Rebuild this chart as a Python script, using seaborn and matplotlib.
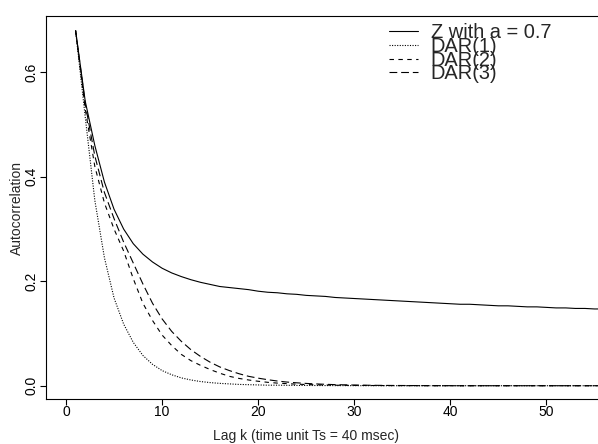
import matplotlib
matplotlib.use("Agg")
import matplotlib.pyplot as plt
import seaborn as sns
import pandas as pd

# ---- data ----
lags = list(range(1, 57))

z_acf = [0.680, 0.545, 0.460, 0.390, 0.338, 0.300, 0.272, 0.252, 0.237, 0.225,
         0.216, 0.209, 0.203, 0.198, 0.194, 0.190, 0.188, 0.186, 0.184, 0.181,
         0.179, 0.178, 0.176, 0.175, 0.173, 0.172, 0.171, 0.169, 0.168, 0.167,
         0.166, 0.165, 0.164, 0.163, 0.162, 0.161, 0.160, 0.159, 0.158, 0.157,
         0.156, 0.156, 0.155, 0.154, 0.153, 0.153, 0.152, 0.151, 0.151, 0.150,
         0.149, 0.149, 0.148, 0.148, 0.147, 0.147]

dar1 = [0.680, 0.515, 0.355, 0.245, 0.168, 0.118, 0.083, 0.058, 0.041, 0.029,
        0.021, 0.015, 0.011, 0.008, 0.006, 0.0045, 0.0035, 0.0025, 0.002, 0.0015,
        0.001, 0.001, 0.0008, 0.0006, 0.0005, 0.0004, 0.0003, 0.0002, 0.0002, 0.0001,
        0.0001, 0.0001, 0.0, 0.0, 0.0, 0.0, 0.0, 0.0, 0.0, 0.0,
        0.0, 0.0, 0.0, 0.0, 0.0, 0.0, 0.0, 0.0, 0.0, 0.0,
        0.0, 0.0, 0.0, 0.0, 0.0, 0.0]

dar2 = [0.680, 0.530, 0.420, 0.350, 0.300, 0.258, 0.205, 0.158, 0.125, 0.097,
        0.077, 0.060, 0.048, 0.039, 0.031, 0.024, 0.018, 0.014, 0.011, 0.0085,
        0.0065, 0.005, 0.004, 0.003, 0.0023, 0.0018, 0.0014, 0.001, 0.0008, 0.0006,
        0.0005, 0.0004, 0.0003, 0.0002, 0.0002, 0.0001, 0.0001, 0.0, 0.0, 0.0,
        0.0, 0.0, 0.0, 0.0, 0.0, 0.0, 0.0, 0.0, 0.0, 0.0,
        0.0, 0.0, 0.0, 0.0, 0.0, 0.0]

dar3 = [0.680, 0.540, 0.440, 0.370, 0.320, 0.275, 0.235, 0.195, 0.158, 0.128,
        0.104, 0.085, 0.069, 0.056, 0.045, 0.036, 0.029, 0.023, 0.018, 0.0145,
        0.0115, 0.009, 0.007, 0.0056, 0.0044, 0.0035, 0.0027, 0.0021, 0.0017, 0.0013,
        0.001, 0.0008, 0.0006, 0.0005, 0.0004, 0.0003, 0.0002, 0.0002, 0.0001, 0.0001,
        0.0, 0.0, 0.0, 0.0, 0.0, 0.0, 0.0, 0.0, 0.0, 0.0,
        0.0, 0.0, 0.0, 0.0, 0.0, 0.0]

series_labels = ["Z with a = 0.7", "DAR(1)", "DAR(2)", "DAR(3)"]
x_ticks = [0, 10, 20, 30, 40, 50]
y_ticks = [0.0, 0.2, 0.4, 0.6]
y_tick_labels = ["0.0", "0.2", "0.4", "0.6"]
x_label = "Lag k (time unit Ts = 40 msec)"
y_label = "Autocorrelation"

# ---- styling ----
sns.set_style("ticks")
plt.rcParams["font.family"] = ["Liberation Sans", "DejaVu Sans"]

W, H = 598, 444
fig = plt.figure(figsize=(W / 100, H / 100), dpi=100)

# axes box: left edge at 46px, top 16px, bottom 399px; extends past the right edge
x_left, x_right = -2.08, 78.0
px_per_unit = 9.61
ax_w_px = (x_right - x_left) * px_per_unit
ax = fig.add_axes([46 / W, 1 - 399.3 / H, ax_w_px / W, (399.3 - 16) / H])

styles = [
    dict(linestyle="-"),
    dict(linestyle=(0, (1, 1.3))),
    dict(linestyle=(0, (4, 4))),
    dict(linestyle=(0, (7, 3.5))),
]
all_vals = [z_acf, dar1, dar2, dar3]
for vals, lab, st in zip(all_vals, series_labels, styles):
    df = pd.DataFrame({"lag": lags, "acf": vals})
    sns.lineplot(data=df, x="lag", y="acf", ax=ax, color="black",
                 linewidth=0.8, label=lab, **st)

ax.set_xlim(x_left, x_right)
ax.set_ylim(-0.026, 0.708)
ax.set_xticks(x_ticks)
ax.set_yticks(y_ticks)
ax.set_yticklabels(y_tick_labels)

ax.set_xlabel(x_label, fontsize=10)
ax.xaxis.set_label_coords(305.8 / W, 1 - 428.5 / H, transform=fig.transFigure)
ax.xaxis.label.set_va("top")
ax.set_ylabel(y_label, fontsize=10)
ax.yaxis.set_label_coords(17.3 / W, 1 - 207.7 / H, transform=fig.transFigure)
ax.yaxis.label.set_va("center")

for sp in ax.spines.values():
    sp.set_color("black")
    sp.set_linewidth(0.8)
ax.tick_params(axis="both", direction="out", length=4.3, width=0.8,
               color="black", labelsize=10, labelcolor="black")
ax.tick_params(axis="x", pad=0)
ax.tick_params(axis="y", pad=1, labelrotation=90)
for t in ax.get_yticklabels():
    t.set_va("center")

handles, labels = ax.get_legend_handles_labels()
ax.legend(handles, labels, loc="upper left",
          bbox_to_anchor=(389 / W, 1 - 23.5 / H), bbox_transform=fig.transFigure,
          frameon=False, fontsize=14.4, handlelength=1.45, handletextpad=0.63,
          labelspacing=-0.27, borderpad=0, borderaxespad=0)

fig.savefig("out.png", dpi=100)
